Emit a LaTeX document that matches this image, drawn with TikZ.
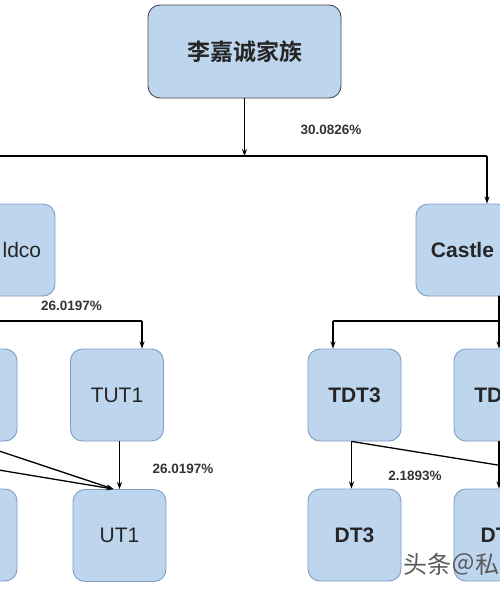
\documentclass[tikz,border=0pt]{standalone}
\usepackage{fontspec}
\setmainfont{Liberation Sans}
\newfontfamily\cjk{Noto Sans CJK SC}[BoldFont={* Bold}]
\usetikzlibrary{arrows.meta,calc}
\definecolor{boxfill}{HTML}{BDD6EE}
\definecolor{boxline}{HTML}{7F9DC4}
\definecolor{wm}{HTML}{5A5A5A}
\tikzset{
  box/.style={draw=boxline, line width=0.9pt, fill=boxfill, rounded corners=12pt,
    minimum width=93pt, minimum height=92pt, inner sep=0pt, text=black!85,
    font=\fontsize{21}{24}\selectfont},
  boldbox/.style={box, font=\fontsize{21}{24}\selectfont\bfseries},
  conn/.style={line width=1.3pt, black},
  arr/.style={conn, -{Stealth[length=7pt,width=5pt]}},
  pct/.style={font=\fontsize{13.5}{15}\selectfont\bfseries, text=black!80, inner sep=0pt}
}
\begin{document}
\begin{tikzpicture}[x=1pt,y=-1pt]
\useasboundingbox (0,0) rectangle (500,600);
\clip (0,0) rectangle (500,600);
\fill[white] (0,0) rectangle (500,600);
% boxes
\node[box, draw=black!70, minimum width=193pt, minimum height=93pt,
  font=\cjk\bfseries\fontsize{23}{26}\selectfont] (fam) at (244.5,51.5) {李嘉诚家族};
\node[box] (holdco) at (8.5,250) {\phantom{Ho}ldco};
\node[boldbox] (castle) at (462.5,250) {Castle};
\node[box] (l2) at (-29.5,395) {};
\node[box] (tut1) at (117,395) {TUT1};
\node[boldbox] (tdt3) at (354.5,395) {TDT3};
\node[boldbox] (td4) at (500.5,395) {TD\phantom{T4}};
\node[box] (l3) at (-29.5,535) {};
\node[box] (ut1) at (119.5,535.5) {UT1};
\node[boldbox] (dt3) at (354.5,535) {DT3};
\node[boldbox] (dt4) at (500.5,535) {DT\phantom{4}};
% junction coordinates
\coordinate (j0) at (fam.south |- 0,156);
\coordinate (jl) at (-20,156);
\coordinate (jr) at ([xshift=24.5]castle.north |- 0,156);
\coordinate (h1) at ([xshift=-20]holdco.south |- 0,321);
\coordinate (h2) at ([xshift=25]tut1.north |- 0,321);
\coordinate (c1) at ([xshift=36.5]castle.south |- 0,321);
\coordinate (c2) at ([xshift=-21.5]tdt3.north |- 0,321);
\coordinate (l2b) at (-176,441);
\coordinate (ut1in) at ([xshift=-6]ut1.north);
\coordinate (r5) at (646.5,489);
% connectors
\draw[arr] (fam.south) -- (j0);
\draw[conn] (jl) -- (jr);
\draw[arr] (jr) -- ([xshift=24.5]castle.north);
\draw[arr] (jl) -- ([xshift=-28.5]holdco.north);
\draw[conn] ([xshift=-20]holdco.south) -- (h1) -- (h2);
\draw[arr] (h2) -- ([xshift=25]tut1.north);
\draw[conn] ([xshift=36.5]castle.south) -- (c1) -- (c2);
\draw[arr] (c2) -- ([xshift=-21.5]tdt3.north);
\draw[arr] (c1) -- ([xshift=-1.5]td4.north);
\draw[arr] (tut1.south -| ut1.north) -- (ut1.north);
\draw[arr] (l2.south) -- (ut1in);
\draw[arr] (l2b) -- (ut1in);
\draw[arr] ([xshift=-3]tdt3.south) -- ([xshift=-3]dt3.north);
\draw[arr] ([xshift=-3]tdt3.south) -- (r5);
\draw[arr] ([xshift=-1.5]td4.south) -- ([xshift=-1.5]dt4.north);
% labels
\node[pct] (p1) at (331,130) {30.0826\%};
\node[pct] (p2) at (71.5,306) {26.0197\%};
\node[pct] (p3) at (183,469) {26.0197\%};
\node[pct] (p4) at (415,476) {2.1893\%};
% watermark
\node[anchor=west, inner sep=0pt, text=wm, font=\cjk\fontsize{24}{26}\selectfont] (wmk) at (403,564) {头条＠私};
\end{tikzpicture}
\end{document}
